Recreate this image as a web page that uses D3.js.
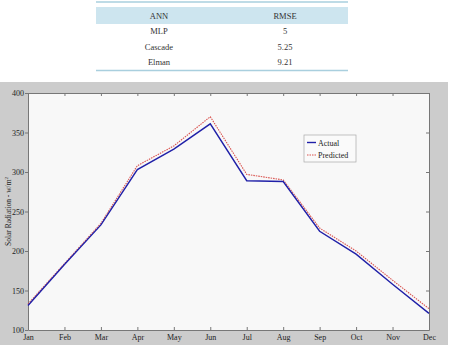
<!DOCTYPE html>
<html>
<head>
<meta charset="utf-8">
<script src="https://cdn.jsdelivr.net/npm/d3@7"></script>
<style>
  body { margin: 0; background: #fff; }
  svg { display: block; font-family: "Liberation Serif", "Times New Roman", serif; }
</style>
</head>
<body>
<div id="chart-area"></div>
<script>
// table
var tableHeader = ["ANN", "RMSE"];
var tableNames = ["MLP", "Cascade", "Elman"];
var tableRmse = ["5", "5.25", "9.21"];

// chart
var months = ["Jan", "Feb", "Mar", "Apr", "May", "Jun", "Jul", "Aug", "Sep", "Oct", "Nov", "Dec"];
var actual = [131, 183, 233, 303, 329, 361, 289, 288, 225, 196, 158, 121];
var predicted = [133, 184, 235, 308, 333, 370, 297, 290, 229, 200, 163, 127];
var yTicks = [100, 150, 200, 250, 300, 350, 400];

var W = 449, H = 351;
var svg = d3.select("#chart-area").append("svg")
    .attr("width", W)
    .attr("height", H);

// ---- table ----
var tx = d3.scaleBand().domain(tableHeader).range([96, 348]);
var ty = d3.scaleLinear().domain([0, 3]).range([16, 62]);

svg.append("line")
    .attr("x1", 96).attr("x2", 348).attr("y1", 2).attr("y2", 2)
    .attr("stroke", "#a9cfde").attr("stroke-width", 1.5);
svg.append("rect")
    .attr("x", 96).attr("y", 7).attr("width", 252).attr("height", 17)
    .attr("fill", "#cde5ef");
svg.append("line")
    .attr("x1", 96).attr("x2", 348).attr("y1", 70.5).attr("y2", 70.5)
    .attr("stroke", "#a9cfde").attr("stroke-width", 1.5);

svg.selectAll(".th").data(tableHeader).enter().append("text")
    .attr("class", "th")
    .attr("x", function(d){ return tx(d) + tx.bandwidth() / 2; })
    .attr("y", 18.5)
    .attr("text-anchor", "middle")
    .attr("font-size", 8.5)
    .attr("fill", "#333")
    .text(function(d){ return d; });

var rows = tableNames.map(function(n, i){ return [n, tableRmse[i]]; });
rows.forEach(function(r, i){
    r.forEach(function(v, j){
        svg.append("text")
            .attr("x", tx(tableHeader[j]) + tx.bandwidth() / 2)
            .attr("y", ty(i + 1) + 3)
            .attr("text-anchor", "middle")
            .attr("font-size", 8.5)
            .attr("fill", "#333")
            .text(v);
    });
});

// ---- chart ----
svg.append("rect")
    .attr("x", 0).attr("y", 82).attr("width", 448).attr("height", 263)
    .attr("fill", "#cccccc");

var pLeft = 28, pRight = 429, pTop = 93, pBottom = 330;

var x = d3.scalePoint().domain(months).range([pLeft, pRight]);
var y = d3.scaleLinear().domain([100, 400]).range([pBottom, pTop]);

svg.append("rect")
    .attr("x", pLeft).attr("y", pTop).attr("width", pRight - pLeft).attr("height", pBottom - pTop)
    .attr("fill", "#f8f8f8");

var axisColor = "#777";

// bottom axis (ticks inward)
var gx = svg.append("g")
    .attr("transform", "translate(0," + pBottom + ")")
    .call(d3.axisBottom(x).tickSizeInner(-3).tickSizeOuter(0).tickPadding(4));
gx.selectAll("text").attr("font-size", 8).attr("fill", "#222").attr("font-family", "Liberation Serif");

// top axis
var gt = svg.append("g")
    .attr("transform", "translate(0," + pTop + ")")
    .call(d3.axisTop(x).tickSizeInner(-3).tickSizeOuter(0).tickFormat(""));

// left axis
var gy = svg.append("g")
    .attr("transform", "translate(" + pLeft + ",0)")
    .call(d3.axisLeft(y).tickValues(yTicks).tickSizeInner(3).tickSizeOuter(0).tickPadding(1));
gy.selectAll("text").attr("font-size", 8).attr("fill", "#222").attr("font-family", "Liberation Serif");

// right axis
var gr = svg.append("g")
    .attr("transform", "translate(" + pRight + ",0)")
    .call(d3.axisRight(y).tickValues(yTicks).tickSizeInner(-3).tickSizeOuter(0).tickFormat(""));

[gx, gt, gy, gr].forEach(function(g){
    g.select(".domain").attr("stroke", axisColor);
    g.selectAll(".tick line").attr("stroke", axisColor);
});

// y label
svg.append("text")
    .attr("transform", "translate(11," + ((pTop + pBottom) / 2) + ") rotate(-90)")
    .attr("text-anchor", "middle")
    .attr("font-size", 7.5)
    .attr("fill", "#222")
    .html("Solar Radiation - w/m<tspan dy='-3' font-size='5'>2</tspan>");

var line = d3.line()
    .x(function(d, i){ return x(months[i]); })
    .y(function(d){ return y(d); });

svg.append("path")
    .datum(predicted)
    .attr("d", line)
    .attr("fill", "none")
    .attr("stroke", "#d9534f")
    .attr("stroke-width", 1.1)
    .attr("stroke-dasharray", "1.5,1");

svg.append("path")
    .datum(actual)
    .attr("d", line)
    .attr("fill", "none")
    .attr("stroke", "#2020a8")
    .attr("stroke-width", 1.4);

// legend
var lg = svg.append("g").attr("transform", "translate(304,135)");
lg.append("rect")
    .attr("width", 52).attr("height", 27)
    .attr("fill", "#fafafa").attr("stroke", "#aaa").attr("stroke-width", 0.7);
lg.append("line").attr("x1", 3).attr("x2", 12).attr("y1", 7.5).attr("y2", 7.5)
    .attr("stroke", "#2020a8").attr("stroke-width", 1.4);
lg.append("line").attr("x1", 3).attr("x2", 12).attr("y1", 20).attr("y2", 20)
    .attr("stroke", "#d9534f").attr("stroke-width", 1.1).attr("stroke-dasharray", "1.5,1");
lg.append("text").attr("x", 14).attr("y", 10.5).attr("font-size", 8).attr("fill", "#222").text("Actual");
lg.append("text").attr("x", 14).attr("y", 23).attr("font-size", 8).attr("fill", "#222").text("Predicted");
</script>
</body>
</html>
